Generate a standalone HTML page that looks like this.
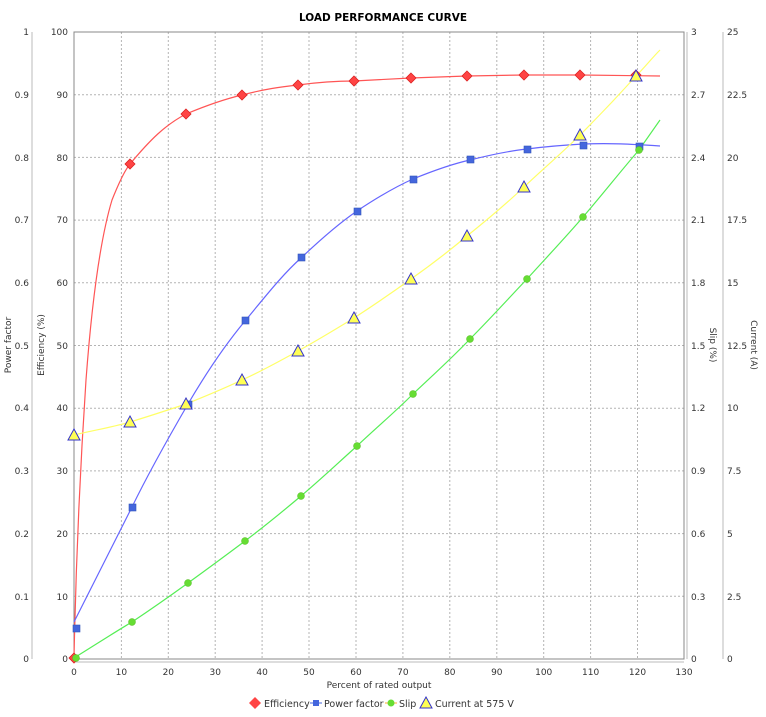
<!DOCTYPE html>
<html><head><meta charset="utf-8"><style>
html,body{margin:0;padding:0;background:#fff;}
svg{display:block;font-family:"DejaVu Sans","Liberation Sans",sans-serif;}
</style></head><body>
<svg width="766" height="717" viewBox="0 0 766 717" xmlns="http://www.w3.org/2000/svg">
<rect width="766" height="717" fill="#fff"/>
<text x="383" y="21" text-anchor="middle" font-size="10.5" font-weight="bold">LOAD PERFORMANCE CURVE</text>
<g stroke="#b4b4b4" stroke-width="1" stroke-dasharray="2,2">
<line x1="121.4" y1="32" x2="121.4" y2="659"/><line x1="168.3" y1="32" x2="168.3" y2="659"/><line x1="215.2" y1="32" x2="215.2" y2="659"/><line x1="262.1" y1="32" x2="262.1" y2="659"/><line x1="309" y1="32" x2="309" y2="659"/><line x1="356" y1="32" x2="356" y2="659"/><line x1="402.9" y1="32" x2="402.9" y2="659"/><line x1="449.8" y1="32" x2="449.8" y2="659"/><line x1="496.8" y1="32" x2="496.8" y2="659"/><line x1="543.7" y1="32" x2="543.7" y2="659"/><line x1="590.6" y1="32" x2="590.6" y2="659"/><line x1="637.5" y1="32" x2="637.5" y2="659"/>
<line x1="74" y1="94.7" x2="684" y2="94.7"/><line x1="74" y1="157.4" x2="684" y2="157.4"/><line x1="74" y1="220.1" x2="684" y2="220.1"/><line x1="74" y1="282.8" x2="684" y2="282.8"/><line x1="74" y1="345.5" x2="684" y2="345.5"/><line x1="74" y1="408.2" x2="684" y2="408.2"/><line x1="74" y1="470.9" x2="684" y2="470.9"/><line x1="74" y1="533.6" x2="684" y2="533.6"/><line x1="74" y1="596.3" x2="684" y2="596.3"/>
<line x1="74" y1="32" x2="684" y2="32"/>
</g>
<rect x="74" y="32" width="610" height="627" fill="none" stroke="#888" stroke-width="1"/>
<g stroke="#bbb" stroke-width="1">
<line x1="32" y1="32" x2="32" y2="659"/>
<line x1="687" y1="32" x2="687" y2="659"/>
<line x1="723" y1="32" x2="723" y2="659"/>
<line x1="74" y1="662" x2="684" y2="662"/>
</g>
<g font-size="9" fill="#333">
<g text-anchor="end">
<text x="29" y="35">1</text><text x="29" y="98">0.9</text><text x="29" y="161">0.8</text><text x="29" y="223">0.7</text><text x="29" y="286">0.6</text><text x="29" y="349">0.5</text><text x="29" y="411">0.4</text><text x="29" y="474">0.3</text><text x="29" y="537">0.2</text><text x="29" y="600">0.1</text><text x="29" y="662">0</text>
<text x="68" y="35">100</text><text x="68" y="98">90</text><text x="68" y="161">80</text><text x="68" y="223">70</text><text x="68" y="286">60</text><text x="68" y="349">50</text><text x="68" y="411">40</text><text x="68" y="474">30</text><text x="68" y="537">20</text><text x="68" y="600">10</text><text x="68" y="662">0</text>
</g>
<text x="691" y="35">3</text><text x="691" y="98">2.7</text><text x="691" y="161">2.4</text><text x="691" y="223">2.1</text><text x="691" y="286">1.8</text><text x="691" y="349">1.5</text><text x="691" y="411">1.2</text><text x="691" y="474">0.9</text><text x="691" y="537">0.6</text><text x="691" y="600">0.3</text><text x="691" y="662">0</text>
<text x="727" y="35">25</text><text x="727" y="98">22.5</text><text x="727" y="161">20</text><text x="727" y="223">17.5</text><text x="727" y="286">15</text><text x="727" y="349">12.5</text><text x="727" y="411">10</text><text x="727" y="474">7.5</text><text x="727" y="537">5</text><text x="727" y="600">2.5</text><text x="727" y="662">0</text>
<g text-anchor="middle">
<text x="74" y="675">0</text><text x="121.4" y="675">10</text><text x="168.3" y="675">20</text><text x="215.2" y="675">30</text><text x="262.1" y="675">40</text><text x="309" y="675">50</text><text x="356" y="675">60</text><text x="402.9" y="675">70</text><text x="449.8" y="675">80</text><text x="496.8" y="675">90</text><text x="543.7" y="675">100</text><text x="590.6" y="675">110</text><text x="637.5" y="675">120</text><text x="684" y="675">130</text>
<text x="379" y="688">Percent of rated output</text>
</g>
<text transform="translate(11,345) rotate(-90)" text-anchor="middle">Power factor</text>
<text transform="translate(44,345) rotate(-90)" text-anchor="middle">Efficiency (%)</text>
<text transform="translate(710,345) rotate(90)" text-anchor="middle">Slip (%)</text>
<text transform="translate(751,345) rotate(90)" text-anchor="middle">Current (A)</text>
</g>
<g fill="none" stroke-width="1.2">
<path stroke="#ff5555" d="M74,658 C76,560 80,470 86,380 C92,300 100,240 112,200 C120,180 125,170 130,164 C150,140 165,125 186,114 C210,104 225,99 242,95 C265,89 280,87 298,85 C320,82 335,81 354,81 L411,78 L467,76 L524,75 L580,75 L660,76"/>
<path stroke="#6666ff" d="M74,622 C95,580 115,540 132,507 C150,470 170,435 188,404 C205,375 225,345 245,321 C265,297 282,275 301,258 C320,240 338,224 357,211 C378,197 395,187 413,179 C435,170 452,164 470,160 C490,155 508,151 527,149 C550,146 565,145 583,144 C610,143 630,144 660,146"/>
<path stroke="#55ee55" d="M74,658 C95,645 115,632 132,622 C150,610 170,596 188,583 C206,570 225,556 245,541 C265,526 282,512 301,496 C320,480 338,463 357,446 C376,428 395,412 413,394 C432,376 452,358 470,339 C490,319 508,299 527,279 C546,258 565,238 583,217 C602,195 620,172 639,150 C646,140 653,130 660,120"/>
<path stroke="#ffff66" d="M74,435 C95,430 113,427 130,422 C150,416 168,410 186,404 C206,396 225,388 242,380 C262,371 280,361 298,351 C318,340 336,329 354,318 C374,305 393,292 411,279 C431,265 449,251 467,236 C487,220 506,204 524,187 C543,169 562,153 580,135 C600,115 618,96 636,76 C645,67 652,58 660,50"/>
</g>
<g fill="#ff4444" stroke="#dd2222" stroke-width="0.8">
<path d="M74,653 l5,5 l-5,5 l-5,-5z"/><path d="M130,159 l5,5 l-5,5 l-5,-5z"/><path d="M186,109 l5,5 l-5,5 l-5,-5z"/><path d="M242,90 l5,5 l-5,5 l-5,-5z"/><path d="M298,80 l5,5 l-5,5 l-5,-5z"/><path d="M354,76 l5,5 l-5,5 l-5,-5z"/><path d="M411,73 l5,5 l-5,5 l-5,-5z"/><path d="M467,71 l5,5 l-5,5 l-5,-5z"/><path d="M524,70 l5,5 l-5,5 l-5,-5z"/><path d="M580,70 l5,5 l-5,5 l-5,-5z"/><path d="M636,70 l5,5 l-5,5 l-5,-5z"/>
</g>
<g fill="#4466dd" stroke="#3355bb" stroke-width="0.6">
<rect x="73" y="625" width="7" height="7"/><rect x="129" y="504" width="7" height="7"/><rect x="185" y="401" width="7" height="7"/><rect x="242" y="317" width="7" height="7"/><rect x="298" y="254" width="7" height="7"/><rect x="354" y="208" width="7" height="7"/><rect x="410" y="176" width="7" height="7"/><rect x="467" y="156" width="7" height="7"/><rect x="524" y="146" width="7" height="7"/><rect x="580" y="142" width="7" height="7"/><rect x="636" y="143" width="7" height="7"/>
</g>
<g fill="#66dd33" stroke="#55bb22" stroke-width="0.5">
<circle cx="76" cy="658" r="3.5"/><circle cx="132" cy="622" r="3.5"/><circle cx="188" cy="583" r="3.5"/><circle cx="245" cy="541" r="3.5"/><circle cx="301" cy="496" r="3.5"/><circle cx="357" cy="446" r="3.5"/><circle cx="413" cy="394" r="3.5"/><circle cx="470" cy="339" r="3.5"/><circle cx="527" cy="279" r="3.5"/><circle cx="583" cy="217" r="3.5"/><circle cx="639" cy="150" r="3.5"/>
</g>
<g fill="#ffff55" stroke="#3333cc" stroke-width="1">
<path d="M74,429 l6,11 h-12z"/><path d="M130,416 l6,11 h-12z"/><path d="M186,398 l6,11 h-12z"/><path d="M242,374 l6,11 h-12z"/><path d="M298,345 l6,11 h-12z"/><path d="M354,312 l6,11 h-12z"/><path d="M411,273 l6,11 h-12z"/><path d="M467,230 l6,11 h-12z"/><path d="M524,181 l6,11 h-12z"/><path d="M580,129 l6,11 h-12z"/><path d="M636,70 l6,11 h-12z"/>
</g>
<g font-size="9.5" fill="#333">
<path d="M255,697 l6,6 l-6,6 l-6,-6z" fill="#ff4444"/>
<text x="264" y="707">Efficiency</text>
<line x1="310" y1="703" x2="322" y2="703" stroke="#4466dd"/><rect x="313" y="700" width="6" height="6" fill="#4466dd"/>
<text x="324" y="707">Power factor</text>
<line x1="385" y1="703" x2="397" y2="703" stroke="#ffaa33"/><circle cx="391" cy="703" r="3.5" fill="#66dd33"/>
<text x="399" y="707">Slip</text>
<path d="M426,697 l6,11 h-12z" fill="#ffff55" stroke="#3333cc"/>
<text x="435" y="707">Current at 575 V</text>
</g>
</svg>
</body></html>
